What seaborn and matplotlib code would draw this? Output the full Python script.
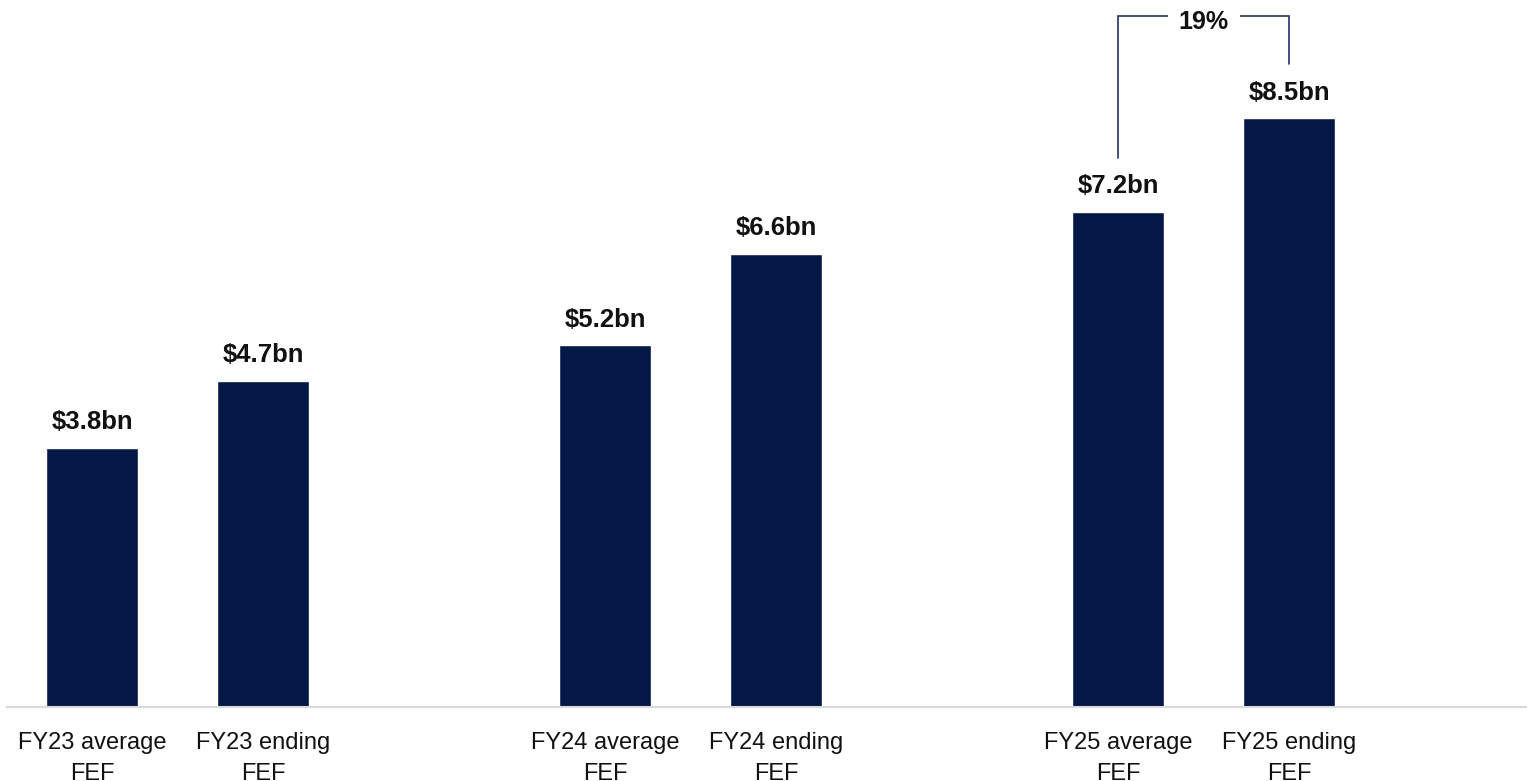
import pandas as pd
import matplotlib
matplotlib.use("Agg")
import matplotlib.pyplot as plt
import seaborn as sns

categories = ["FY23 average\nFEF", "FY23 ending\nFEF",
              "FY24 average\nFEF", "FY24 ending\nFEF",
              "FY25 average\nFEF", "FY25 ending\nFEF"]
values = [3.76, 4.72, 5.24, 6.57, 7.18, 8.53]
value_labels = ["$3.8bn", "$4.7bn", "$5.2bn", "$6.6bn", "$7.2bn", "$8.5bn"]
growth_label = "19%"

# blank slots give the gap between years
order = [categories[0], categories[1], " ",
         categories[2], categories[3], "  ",
         categories[4], categories[5]]

navy = "#041847"

sns.set_theme(style="white")
plt.rcParams["font.family"] = ["Liberation Sans", "DejaVu Sans"]

data = pd.DataFrame({"label": categories, "value": values})

fig = plt.figure(figsize=(15.27, 7.81), dpi=100)
ax = fig.add_axes([0.0046, 0.0948, 0.9954, 0.9052])

sns.barplot(data=data, x="label", y="value", order=order, color=navy,
            width=0.54, saturation=1, ax=ax)

ax.bar_label(ax.containers[0], labels=value_labels, padding=10,
             fontsize=18.5, fontweight="bold", color="#111111")

ax.set_xlim(-0.497, 8.39)
ax.set_ylim(0, 10.246)

# bracket between FY25 average and FY25 ending
bars = ax.containers[0].patches
x_left = bars[4].get_x() + bars[4].get_width() / 2
x_right = bars[5].get_x() + bars[5].get_width() / 2
top = 10.01
ax.plot([x_left, x_left, x_right, x_right],
        [values[4] + 0.78, top, top, values[5] + 0.79],
        color="#1f3468", lw=1.2, solid_joinstyle="miter")
ax.text((x_left + x_right) / 2, top - 0.09, growth_label, ha="center",
        va="center", fontsize=18, fontweight="bold", color="#111111",
        bbox=dict(facecolor="white", edgecolor="none", pad=8))

for side in ["top", "right", "left"]:
    ax.spines[side].set_visible(False)
ax.spines["bottom"].set_color("#d9d9d9")
ax.spines["bottom"].set_linewidth(1.5)

ax.set_yticks([])
ax.set_xlabel("")
ax.set_ylabel("")
ax.tick_params(axis="x", length=0, pad=18, labelsize=17, labelcolor="#111111")
for t in ax.get_xticklabels():
    t.set_linespacing(1.55)

fig.savefig("out.png", dpi=100)
